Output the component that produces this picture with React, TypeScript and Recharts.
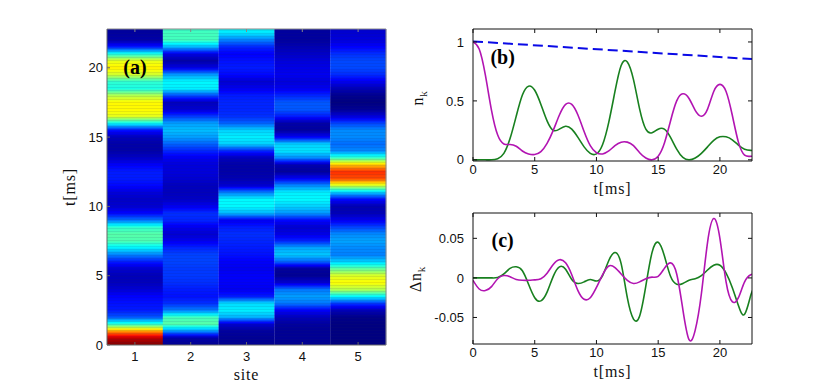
import { Bar, BarChart, Cell, Label, Line, LineChart, ReferenceDot, XAxis, YAxis } from "recharts";

// samples are every 0.5 ms, the last one sits on the right edge of the line panels
const times = [
  0, 0.5, 1, 1.5, 2, 2.5, 3, 3.5, 4, 4.5, 5, 5.5, 6, 6.5, 7, 7.5, 8, 8.5, 9, 9.5, 10, 10.5, 11, 11.5, 12, 12.5, 13,
  13.5, 14, 14.5, 15, 15.5, 16, 16.5, 17, 17.5, 18, 18.5, 19, 19.5, 20, 20.5, 21, 21.5, 22, 22.5, 22.8,
];

const sites = ["1", "2", "3", "4", "5"];

// heat map colours, read per site
const site1 = [
  1, 0.94, 0.72, 0.42, 0.21, 0.15, 0.14, 0.125, 0.085, 0.06, 0.055, 0.08, 0.15, 0.25, 0.36, 0.45, 0.46, 0.42, 0.24,
  0.13, 0.08, 0.07, 0.09, 0.13, 0.15, 0.15, 0.12, 0.07, 0.04, 0.04, 0.06, 0.14, 0.38, 0.6, 0.63, 0.63, 0.55, 0.4, 0.42,
  0.58, 0.64, 0.6, 0.4, 0.15, 0.04, 0.03, 0.03,
];
const site2 = [
  0.02, 0.04, 0.27, 0.46, 0.44, 0.25, 0.17, 0.14, 0.15, 0.17, 0.18, 0.18, 0.19, 0.19, 0.16, 0.11, 0.08, 0.11, 0.16,
  0.17, 0.11, 0.07, 0.06, 0.06, 0.08, 0.09, 0.09, 0.11, 0.16, 0.22, 0.28, 0.31, 0.28, 0.18, 0.08, 0.06, 0.2, 0.36, 0.37,
  0.28, 0.1, 0.04, 0.1, 0.3, 0.44, 0.44, 0.43,
];
const site3 = [
  0.02, 0.02, 0.03, 0.08, 0.3, 0.36, 0.34, 0.15, 0.11, 0.12, 0.12, 0.11, 0.12, 0.14, 0.15, 0.16, 0.17, 0.15, 0.11, 0.3,
  0.37, 0.37, 0.25, 0.08, 0.05, 0.04, 0.04, 0.06, 0.16, 0.33, 0.36, 0.33, 0.22, 0.17, 0.16, 0.16, 0.15, 0.11, 0.08, 0.13,
  0.15, 0.14, 0.12, 0.16, 0.25, 0.35, 0.37,
];
const site4 = [
  0.02, 0.02, 0.02, 0.03, 0.06, 0.12, 0.24, 0.28, 0.24, 0.08, 0.02, 0.03, 0.22, 0.32, 0.29, 0.16, 0.1, 0.08, 0.13, 0.27,
  0.33, 0.37, 0.36, 0.26, 0.12, 0.03, 0.05, 0.26, 0.35, 0.33, 0.12, 0.03, 0.04, 0.15, 0.21, 0.21, 0.16, 0.11, 0.09,
  0.11, 0.1, 0.09, 0.07, 0.05, 0.03, 0.03, 0.03,
];
const site5 = [
  0, 0, 0, 0, 0.01, 0.055, 0.18, 0.37, 0.55, 0.625, 0.59, 0.47, 0.33, 0.25, 0.26, 0.285, 0.26, 0.19, 0.11, 0.055, 0.05,
  0.13, 0.32, 0.58, 0.8, 0.83, 0.68, 0.43, 0.26, 0.23, 0.26, 0.26, 0.19, 0.09, 0.02, 0, 0.015, 0.055, 0.11, 0.165,
  0.195, 0.195, 0.17, 0.125, 0.09, 0.08, 0.08,
];
const siteValues = [site1, site2, site3, site4, site5];

// panel (b)
const nMagenta = [
  1, 0.94, 0.72, 0.42, 0.21, 0.135, 0.13, 0.115, 0.075, 0.05, 0.045, 0.07, 0.14, 0.25, 0.38, 0.47, 0.47, 0.38, 0.24,
  0.12, 0.06, 0.05, 0.075, 0.12, 0.15, 0.15, 0.12, 0.06, 0.015, 0, 0.03, 0.14, 0.33, 0.5, 0.56, 0.52, 0.42, 0.37, 0.43,
  0.58, 0.64, 0.58, 0.38, 0.15, 0.04, 0.03, 0.03,
];
const nGreen = site5;
const dashedTimes = [0, 22.6];
const dashedValues = [1.005, 0.855];

// panel (c)
const diffGreen = [
  0, 0, 0, 0, 0.0005, 0.005, 0.012, 0.014, 0.009, -0.008, -0.025, -0.029, -0.018, 0.002, 0.014, 0.011, -0.002, -0.007,
  -0.005, -0.002, -0.004, 0.003, 0.022, 0.032, 0.018, -0.025, -0.052, -0.048, -0.01, 0.032, 0.045, 0.028, 0.002, -0.008,
  -0.007, -0.003, -0.001, 0.003, 0.01, 0.016, 0.016, 0.006, -0.012, -0.035, -0.046, -0.022, -0.012,
];
const diffMagenta = [
  -0.003, -0.014, -0.016, -0.011, -0.001, 0.003, 0.0015, -0.002, -0.003, -0.003, -0.0025, -0.001, 0.006, 0.017, 0.023,
  0.019, 0.004, -0.016, -0.027, -0.025, -0.012, 0.004, 0.015, 0.013, 0.005, -0.003, -0.007, -0.005, -0.001, 0.001,
  0.002, 0.012, 0.019, 0.005, -0.04, -0.078, -0.066, -0.02, 0.045, 0.075, 0.05, -0.005, -0.03, -0.025, -0.005, 0.004,
  0.004,
];

const timeTicks = [0, 5, 10, 15, 20];
const nTicks = [0, 0.5, 1];
const diffTicks = [-0.05, 0, 0.05];

const T_MAX = 22.8;
const T_MAX_LINES = 22.6;

const GREEN = "#18801f";
const MAGENTA = "#b214b2";
const SANS = "Liberation Sans";
const SERIF = "Liberation Serif";

const heatData = sites.map((site) => ({ site, span: T_MAX }));
const nData = times.map((t, i) => ({ t, magenta: nMagenta[i], green: nGreen[i] }));
const dashedData = dashedTimes.map((t, i) => ({ t, dashed: dashedValues[i] }));
const diffData = times.map((t, i) => ({ t, green: diffGreen[i], magenta: diffMagenta[i] }));

// matlab style jet colormap
function jet(v: number) {
  const ch = (x: number) => Math.round(255 * Math.max(0, Math.min(1, 1.5 - Math.abs(4 * v - x))));
  return `rgb(${ch(3)},${ch(2)},${ch(1)})`;
}

function columnStops(values: number[]) {
  const stops: { offset: number; color: string }[] = [];
  values.forEach((v, i) => {
    if (i === values.length - 1) {
      stops.push({ offset: 1 - times[i] / T_MAX, color: jet(v) });
      return;
    }
    // a few stops per sample so the colour walks through the colormap
    for (let k = 0; k < 4; k++) {
      const t = times[i] + (k / 4) * (times[i + 1] - times[i]);
      stops.push({ offset: 1 - t / T_MAX, color: jet(v + (values[i + 1] - v) * (k / 4)) });
    }
  });
  return stops.reverse();
}

const tickStyle = { fontFamily: SANS, fontSize: 13, fill: "#111" };
const titleStyle = { fontFamily: SERIF, fontSize: 16, fill: "#111", letterSpacing: 0.8 };

// mirrored axes keep their tick marks but carry no text
const noLabel = () => <g />;

function yTitle(x: number, y: number, base: string, sub?: string) {
  return () => (
    <text x={x} y={y} transform={`rotate(-90 ${x} ${y})`} textAnchor="middle" style={titleStyle}>
      {base}
      {sub && (
        <tspan dy={4} fontSize={11}>
          {sub}
        </tspan>
      )}
    </text>
  );
}

function panelTag(text: string) {
  return { value: text, position: "center" as const, fontFamily: SERIF, fontWeight: "bold", fontSize: 20, fill: "#000" };
}

function HeatPanel() {
  return (
    <BarChart
      width={400}
      height={388}
      data={heatData}
      barCategoryGap={0}
      margin={{ top: 28, right: 13, bottom: 0, left: 57 }}
      style={{ position: "absolute", left: 0, top: 0 }}
    >
      <defs>
        {siteValues.map((values, s) => (
          <linearGradient key={s} id={`site${s}`} x1="0" y1="0" x2="0" y2="1">
            {columnStops(values).map((stop, i) => (
              <stop key={i} offset={stop.offset} stopColor={stop.color} />
            ))}
          </linearGradient>
        ))}
        <pattern id="scan" width="6" height="3" patternUnits="userSpaceOnUse">
          <rect width="6" height="1" fill="#1a1a55" fillOpacity={0.1} />
        </pattern>
      </defs>
      <XAxis
        dataKey="site"
        height={43}
        stroke="#666"
        tick={tickStyle}
        tickSize={-3}
        tickMargin={10}
        label={{ value: "site", position: "insideBottom", offset: 8, style: titleStyle }}
      />
      <XAxis xAxisId="top" dataKey="site" orientation="top" height={1} stroke="#888" tick={noLabel} tickSize={-3} />
      <YAxis
        width={50}
        type="number"
        domain={[0, T_MAX]}
        ticks={timeTicks}
        stroke="#666"
        tick={tickStyle}
        tickSize={-3}
        tickMargin={7}
      >
        <Label content={yTitle(75, 187, "t[ms]")} />
      </YAxis>
      <YAxis yAxisId="right" orientation="right" width={1} type="number" domain={[0, T_MAX]} ticks={timeTicks} tickLine={false} stroke="#888" tick={noLabel} />
      <Bar dataKey="span" isAnimationActive={false}>
        {heatData.map((_, s) => (
          <Cell key={s} fill={`url(#site${s})`} />
        ))}
      </Bar>
      <Bar dataKey="span" xAxisId="top" yAxisId="right" fill="url(#scan)" isAnimationActive={false} />
      <ReferenceDot x="1" y={20.1} r={0} fill="none" stroke="none" label={panelTag("(a)")} />
    </BarChart>
  );
}

function NPanel() {
  return (
    <LineChart
      width={430}
      height={196}
      margin={{ top: 28, right: 77, bottom: 0, left: 23 }}
      style={{ position: "absolute", left: 400, top: 0 }}
    >
      <XAxis
        dataKey="t"
        type="number"
        domain={[0, T_MAX_LINES]}
        ticks={timeTicks}
        height={35}
        stroke="#111"
        tick={tickStyle}
        tickSize={-4}
        tickMargin={8}
        allowDataOverflow
        label={{ value: "t[ms]", position: "insideBottom", offset: 2, style: titleStyle }}
      />
      <XAxis xAxisId="top" dataKey="t" type="number" orientation="top" domain={[0, T_MAX_LINES]} ticks={timeTicks} height={1} stroke="#111" tick={noLabel} tickSize={-4} allowDataOverflow />
      <YAxis
        width={50}
        type="number"
        domain={[-0.01, 1.11]}
        ticks={nTicks}
        stroke="#111"
        tick={tickStyle}
        tickSize={-4}
        tickMargin={13}
      >
        <Label content={yTitle(23, 98, "n", "k")} />
      </YAxis>
      <YAxis yAxisId="right" orientation="right" width={1} type="number" domain={[-0.01, 1.11]} ticks={nTicks} stroke="#111" tick={noLabel} tickSize={-4} />
      <Line data={dashedData} dataKey="dashed" type="linear" stroke="#0a0ae6" strokeWidth={2} strokeDasharray="10 5" dot={false} isAnimationActive={false} />
      <Line data={nData} dataKey="green" type="natural" stroke={GREEN} strokeWidth={1.6} dot={false} isAnimationActive={false} />
      <Line data={nData} dataKey="magenta" type="natural" stroke={MAGENTA} strokeWidth={1.6} dot={false} isAnimationActive={false} />
      <Line data={nData} dataKey="green" xAxisId="top" yAxisId="right" stroke="none" legendType="none" dot={false} isAnimationActive={false} />
      <ReferenceDot x={2.4} y={0.87} r={0} fill="none" stroke="none" label={panelTag("(b)")} />
    </LineChart>
  );
}

function DiffPanel() {
  return (
    <LineChart
      width={430}
      height={379}
      margin={{ top: 212, right: 77, bottom: 0, left: 23 }}
      style={{ position: "absolute", left: 400, top: 0 }}
    >
      <XAxis
        dataKey="t"
        type="number"
        domain={[0, T_MAX_LINES]}
        ticks={timeTicks}
        height={35}
        stroke="#111"
        tick={tickStyle}
        tickSize={-4}
        tickMargin={8}
        allowDataOverflow
        label={{ value: "t[ms]", position: "insideBottom", offset: 2, style: titleStyle }}
      />
      <XAxis xAxisId="top" dataKey="t" type="number" orientation="top" domain={[0, T_MAX_LINES]} ticks={timeTicks} height={1} stroke="#111" tick={noLabel} tickSize={-4} allowDataOverflow />
      <YAxis
        width={50}
        type="number"
        domain={[-0.0835, 0.082]}
        ticks={diffTicks}
        stroke="#111"
        tick={tickStyle}
        tickSize={-4}
        tickMargin={13}
      >
        <Label content={yTitle(21, 279, "Δn", "k")} />
      </YAxis>
      <YAxis yAxisId="right" orientation="right" width={1} type="number" domain={[-0.0835, 0.082]} ticks={diffTicks} stroke="#111" tick={noLabel} tickSize={-4} />
      <Line data={diffData} dataKey="green" type="natural" stroke={GREEN} strokeWidth={1.6} dot={false} isAnimationActive={false} />
      <Line data={diffData} dataKey="magenta" type="natural" stroke={MAGENTA} strokeWidth={1.6} dot={false} isAnimationActive={false} />
      <Line data={diffData} dataKey="green" xAxisId="top" yAxisId="right" stroke="none" legendType="none" dot={false} isAnimationActive={false} />
      <ReferenceDot x={2.4} y={0.048} r={0} fill="none" stroke="none" label={panelTag("(c)")} />
    </LineChart>
  );
}

export default function App() {
  return (
    <div style={{ position: "absolute", left: 0, top: 0, width: 830, height: 388, background: "#fff" }}>
      <HeatPanel />
      <NPanel />
      <DiffPanel />
    </div>
  );
}
